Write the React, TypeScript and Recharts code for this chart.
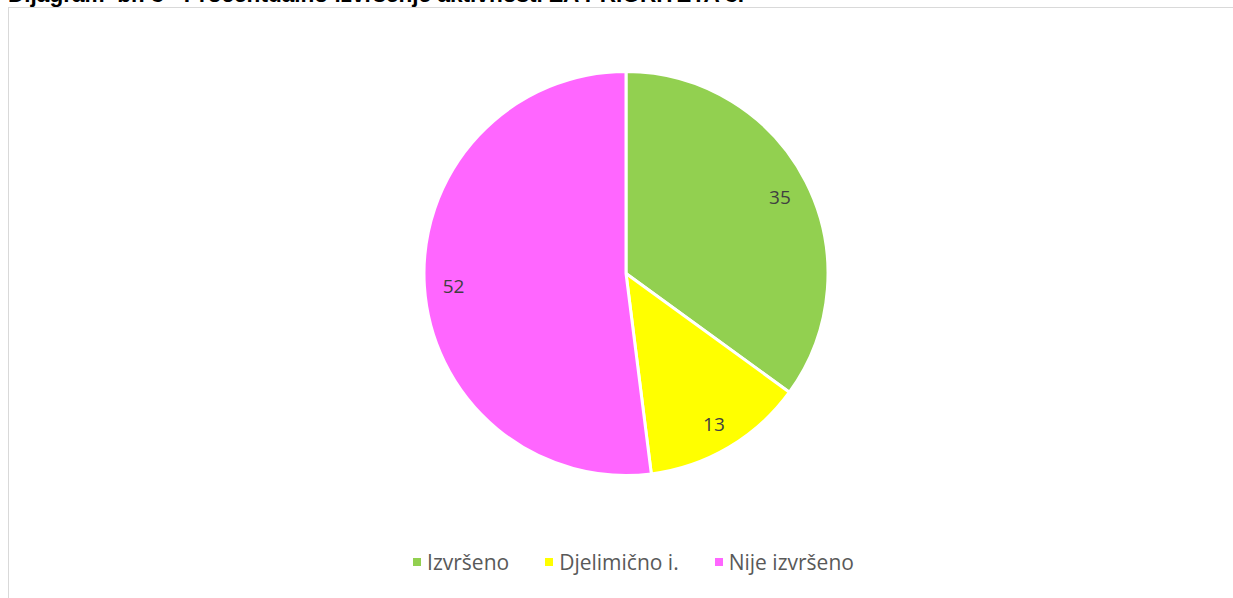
import React from "react";
import { PieChart, Pie, Cell, Legend } from "recharts";

const categories = ["Izvršeno", "Djelimično i.", "Nije izvršeno"];
const values = [35, 13, 52];
const colors = ["#92D050", "#FFFF00", "#FF66FF"];
const title = "Dijagram  br. 3 - Procentualno izvršenje aktivnosti ZA PRIORITETA 3.";

const data = categories.map((name, i) => ({ name, value: values[i] }));

const RAD = Math.PI / 180;
const renderLabel = (props: any) => {
  const { cx, cy, midAngle, outerRadius, value } = props;
  const r = outerRadius * 0.855;
  const x = cx + r * Math.cos(-midAngle * RAD);
  const y = cy + r * Math.sin(-midAngle * RAD);
  return (
    <text
      x={x}
      y={y + 2}
      fill="#404040"
      fontSize={19}
      fontFamily="'Open Sans', 'Noto Sans', sans-serif"
      textAnchor="middle"
      dominantBaseline="central"
    >
      {value}
    </text>
  );
};

const renderLegend = () => (
  <div
    style={{
      display: "flex",
      justifyContent: "center",
      alignItems: "center",
      fontFamily: "'Open Sans', 'Noto Sans', sans-serif",
      fontSize: 21,
      color: "#595959",
    }}
  >
    {categories.map((c, i) => (
      <div key={c} style={{ display: "flex", alignItems: "center", marginRight: i < categories.length - 1 ? 36 : 0 }}>
        <div style={{ width: 8, height: 8, background: colors[i], marginRight: 6 }} />
        <span>{c}</span>
      </div>
    ))}
  </div>
);

export default function App() {
  return (
    <div style={{ position: "absolute", left: 0, top: 0, width: 1233, height: 598, overflow: "hidden", background: "#fff" }}>
      <div
        style={{
          position: "absolute",
          left: 8,
          top: 7,
          width: 1240,
          height: 620,
          border: "1px solid #D9D9D9",
          boxSizing: "border-box",
        }}
      />
      <div
        style={{
          position: "absolute",
          left: 8,
          top: -16,
          fontFamily: "Arial, 'Liberation Sans', sans-serif",
          fontWeight: "bold",
          fontSize: 22.6,
          lineHeight: "22.6px",
          whiteSpace: "pre",
          color: "#000",
        }}
      >
        {title}
      </div>
      <div style={{ position: "absolute", left: 0, top: 0 }}>
        <PieChart width={1233} height={598}>
          <Pie
            data={data}
            dataKey="value"
            nameKey="name"
            cx={621}
            cy={268.5}
            outerRadius={202}
            startAngle={90}
            endAngle={-270}
            stroke="#FFFFFF"
            strokeWidth={3}
            label={renderLabel}
            labelLine={false}
            isAnimationActive={false}
          >
            {data.map((d, i) => (
              <Cell key={d.name} fill={colors[i]} />
            ))}
          </Pie>
          <Legend
            content={renderLegend}
            wrapperStyle={{ position: "absolute", left: 17, top: 548, width: 1233 }}
          />
        </PieChart>
      </div>
    </div>
  );
}
